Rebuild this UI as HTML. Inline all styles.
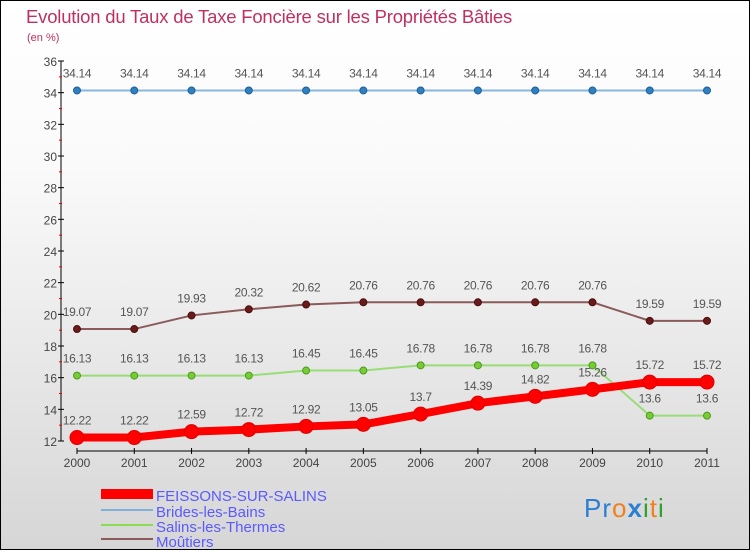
<!DOCTYPE html>
<html><head><meta charset="utf-8"><style>
body{margin:0;width:750px;height:550px;overflow:hidden}
#c{position:absolute;left:0;top:0;width:748px;height:548px;border:1px solid #000;background:linear-gradient(#fff,#fafafa 30%,#d6d6d6)}
text{font-family:"Liberation Sans",sans-serif}
</style></head><body>
<div id="c">
<svg id="s" width="750" height="550" xmlns="http://www.w3.org/2000/svg">
<text x="25" y="22" font-size="18.5" fill="#c0305e" letter-spacing="-0.2">Evolution du Taux de Taxe Foncière sur les Propriétés Bâties</text>
<text x="26" y="40" font-size="11" fill="#c0305e">(en %)</text>
<g id="axes"></g><g id="series"></g>
<g>
<rect x="100" y="488" width="52" height="10" fill="#f00"/>
<text x="155" y="500" font-size="15" fill="#5a5aff">FEISSONS-SUR-SALINS</text>
<line x1="100" x2="152" y1="509" y2="509" stroke="#7fb0d8" stroke-width="2"/>
<text x="155" y="516" font-size="15" fill="#5a5aff">Brides-les-Bains</text>
<line x1="100" x2="152" y1="524" y2="524" stroke="#88dd55" stroke-width="2"/>
<text x="155" y="531" font-size="15" fill="#5a5aff">Salins-les-Thermes</text>
<line x1="100" x2="152" y1="538" y2="538" stroke="#8b5a5a" stroke-width="2"/>
<text x="155" y="546" font-size="15" fill="#5a5aff">Moûtiers</text>
</g>
<text x="583" y="516" font-size="26" letter-spacing="1"><tspan fill="#2a7fd4">Pr</tspan><tspan fill="#f08020">o</tspan><tspan fill="#2a7fd4" font-weight="bold">x</tspan><tspan fill="#30a030">i</tspan><tspan fill="#f08020">t</tspan><tspan fill="#30a030">i</tspan></text>
</svg></div>
<script>
const years=[2000,2001,2002,2003,2004,2005,2006,2007,2008,2009,2010,2011];
const feissons=[12.22,12.22,12.59,12.72,12.92,13.05,13.7,14.39,14.82,15.26,15.72,15.72];
const brides=[34.14,34.14,34.14,34.14,34.14,34.14,34.14,34.14,34.14,34.14,34.14,34.14];
const salins=[16.13,16.13,16.13,16.13,16.45,16.45,16.78,16.78,16.78,16.78,13.6,13.6];
const moutiers=[19.07,19.07,19.93,20.32,20.62,20.76,20.76,20.76,20.76,20.76,19.59,19.59];
const yTicks=[12,14,16,18,20,22,24,26,28,30,32,34,36];
const NS="http://www.w3.org/2000/svg";
const xs=i=>76+i*(706-76)/(years.length-1);
const ys=v=>440-(v-12)*(380/24);
function mk(p,tag,a){const e=document.createElementNS(NS,tag);for(const k in a)e.setAttribute(k,a[k]);p.appendChild(e);return e;}
const ax=document.getElementById('axes');
let l=mk(ax,'line',{x1:60,x2:60,y1:60,y2:440,stroke:'#000'});


l=mk(ax,'line',{x1:76,x2:706,y1:450,y2:450,stroke:'#000'});


yTicks.forEach((t,i)=>{
 const y=ys(t);
 mk(ax,'line',{x1:57,x2:63,y1:y,y2:y,stroke:'#000'});
 if(i<yTicks.length-1){const m=ys(t+1);mk(ax,'line',{x1:58,x2:61,y1:m,y2:m,stroke:'#e00'});}
 const tx=mk(ax,'text',{x:56,y:y+5,'font-size':12,fill:'#444','text-anchor':'end'});
 tx.textContent=t;
 
 
});
years.forEach((yr,i)=>{
 const x=xs(i);
 mk(ax,'line',{x1:x,x2:x,y1:447,y2:453,stroke:'#000'});
 const tx=mk(ax,'text',{x:x,y:466,'font-size':12,fill:'#444','text-anchor':'middle'});
 tx.textContent=yr;
 
 
});
const sg=document.getElementById('series');
function series(data,name,color,lw,r,dot,stroke){
 const g=mk(sg,'g',{});
 
 
 mk(g,'polyline',{points:data.map((v,i)=>xs(i)+','+ys(v)).join(' '),fill:'none',stroke:color,'stroke-width':lw});
 data.forEach((v,i)=>{
  const c=mk(g,'circle',{cx:xs(i),cy:ys(v),r:r,fill:dot,stroke:stroke,'stroke-width':1});
  
  
  const t=mk(g,'text',{x:xs(i),y:ys(v)-13,'font-size':12,fill:'#555','text-anchor':'middle','letter-spacing':'-0.3'});
  t.textContent=v;
  
  
 });
}
series(brides,'brides-series','#8ab8dd',2,3.5,'#2f80c0','#1d5f99');
series(moutiers,'moutiers-series','#8b5a5a',2,3.5,'#6b1a1a','#4a0f0f');
series(salins,'salins-series','#99dd77',2,3.5,'#77cc33','#4a9a20');
series(feissons,'feissons-series','#f00',8,7,'#f00','#d00');
</script>
</body></html>
